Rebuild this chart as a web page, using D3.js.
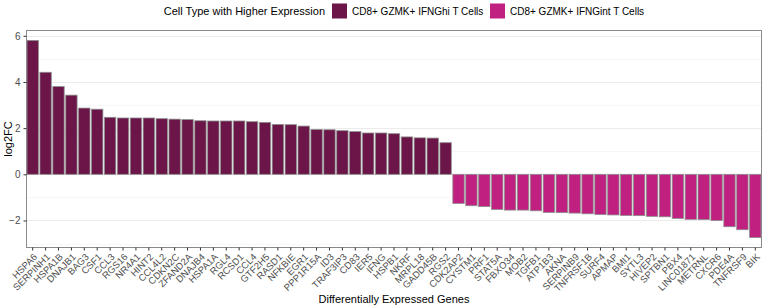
<!DOCTYPE html>
<html>
<head>
<meta charset="utf-8">
<script src="https://cdn.jsdelivr.net/npm/d3@7"></script>
<style>
  body { margin: 0; background: #fff; }
  text { font-family: "Liberation Sans", Arial, sans-serif; }
</style>
</head>
<body>
<script>
// Genes (ordered by log2FC)
const genes = ["HSPA6","SERPINH1","HSPA1B","DNAJB1","BAG3","CSF1","CCL3","RGS16","NR4A1","HINT2",
  "CCL4L2","CDKN2C","ZFAND2A","DNAJB4","HSPA1A","RGL4","RCSD1","CCL4","GTF2H5","RASD1",
  "NFKBIE","EGR1","PPP1R15A","ID3","TRAF3IP3","CD83","IER5","IFNG","HSPB1","NKRF",
  "MRPL18","GADD45B","RGS2","CDK2AP2","CYSTM1","PRF1","STAT5A","FBXO34","MOB2","TGFB1",
  "ATP1B3","AKNA","SERPINB9","TNFRSF1B","SURF4","APMAP","BMI1","SYTL3","HIVEP2","SPTBN1",
  "PBX4","LINC01871","METRNL","CXCR6","PDE4A","TNFRSF9","BIK"];
const log2fc = [5.80,4.42,3.80,3.43,2.87,2.82,2.47,2.44,2.44,2.44,
  2.41,2.39,2.37,2.32,2.31,2.31,2.31,2.28,2.25,2.16,
  2.15,2.09,1.94,1.93,1.89,1.85,1.79,1.79,1.76,1.62,
  1.58,1.57,1.37,-1.26,-1.36,-1.40,-1.52,-1.55,-1.55,-1.58,
  -1.65,-1.66,-1.68,-1.71,-1.74,-1.76,-1.78,-1.79,-1.82,-1.84,
  -1.91,-1.95,-1.96,-2.00,-2.27,-2.40,-2.74];
const groups = ["CD8+ GZMK+ IFNGhi T Cells", "CD8+ GZMK+ IFNGint T Cells"];
const groupColors = ["#6B1548", "#C02080"];
const yTicks = [-2, 0, 2, 4, 6];
const yMinor = [-3, -1, 1, 3, 5];

const data = genes.map((g, i) => ({
  gene: g, value: log2fc[i], group: log2fc[i] > 0 ? groups[0] : groups[1]
}));

const W = 763, H = 308;
const panel = {left: 26.5, right: 761.5, top: 30.5, bottom: 247.5};

const svg = d3.select("body").append("svg")
  .attr("width", W).attr("height", H);

const x = d3.scaleBand()
  .domain(genes)
  .range([panel.left, panel.right])
  .paddingInner(0.12)
  .paddingOuter(0.04);

const y = d3.scaleLinear()
  .domain([-3.17, 6.23])
  .range([panel.bottom, panel.top]);

const color = d3.scaleOrdinal().domain(groups).range(groupColors);

// grid lines
svg.append("g").selectAll("line.minor")
  .data(yMinor.filter(d => y(d) > panel.top && y(d) < panel.bottom))
  .enter().append("line")
  .attr("x1", panel.left).attr("x2", panel.right)
  .attr("y1", d => Math.round(y(d)) + 0.5).attr("y2", d => Math.round(y(d)) + 0.5)
  .attr("stroke", "#f2f2f2").attr("stroke-width", 0.6);
svg.append("g").selectAll("line.major")
  .data(yTicks)
  .enter().append("line")
  .attr("x1", panel.left).attr("x2", panel.right)
  .attr("y1", d => Math.round(y(d)) + 0.5).attr("y2", d => Math.round(y(d)) + 0.5)
  .attr("stroke", "#ebebeb").attr("stroke-width", 1.1);

// bars
svg.append("g").selectAll("rect")
  .data(data)
  .enter().append("rect")
  .attr("x", d => x(d.gene))
  .attr("width", x.bandwidth())
  .attr("y", d => y(Math.max(0, d.value)))
  .attr("height", d => Math.abs(y(d.value) - y(0)))
  .attr("fill", d => color(d.group))
  .attr("stroke", "#8c8c8c")
  .attr("stroke-width", 0.8);

// panel border
svg.append("rect")
  .attr("x", panel.left).attr("y", panel.top)
  .attr("width", panel.right - panel.left)
  .attr("height", panel.bottom - panel.top)
  .attr("fill", "none").attr("stroke", "#8a8a8a").attr("stroke-width", 1);

// y axis
const yAxis = svg.append("g")
  .attr("transform", `translate(${panel.left},0)`)
  .call(d3.axisLeft(y).tickValues(yTicks).tickSize(3).tickPadding(3).tickFormat(d3.format("d")));
yAxis.select(".domain").remove();
yAxis.selectAll("line").attr("stroke", "#333");
yAxis.selectAll("text").attr("fill", "#4d4d4d").style("font-size", "10px");

// x axis
const xAxis = svg.append("g")
  .attr("transform", `translate(0,${panel.bottom})`)
  .call(d3.axisBottom(x).tickSize(3).tickPadding(2));
xAxis.select(".domain").remove();
xAxis.selectAll("line").attr("stroke", "#333");
xAxis.selectAll("text")
  .attr("fill", "#4d4d4d")
  .style("font-size", "9.5px")
  .attr("text-anchor", "end")
  .attr("dy", null)
  .attr("y", 0)
  .attr("transform", "translate(0,5) rotate(-45)")
  .attr("dominant-baseline", "hanging");

// axis titles
svg.append("text")
  .attr("transform", `translate(12,${(panel.top + panel.bottom) / 2}) rotate(-90)`)
  .attr("text-anchor", "middle")
  .style("font-size", "11px")
  .attr("fill", "#000")
  .text("log2FC");

svg.append("text")
  .attr("x", (panel.left + panel.right) / 2)
  .attr("y", 303)
  .attr("text-anchor", "middle")
  .style("font-size", "11px")
  .attr("fill", "#000")
  .text("Differentially Expressed Genes");

// legend
const legend = svg.append("g").attr("transform", "translate(0,11)");
legend.append("text")
  .attr("x", 325).attr("y", 0)
  .attr("text-anchor", "end")
  .attr("dominant-baseline", "central")
  .style("font-size", "11px")
  .text("Cell Type with Higher Expression");
const keyX = [332, 490];
groups.forEach((g, i) => {
  legend.append("rect")
    .attr("x", keyX[i]).attr("y", -7.5)
    .attr("width", 15).attr("height", 15)
    .attr("fill", color(g));
  legend.append("text")
    .attr("x", keyX[i] + 20).attr("y", 0)
    .attr("dominant-baseline", "central")
    .style("font-size", "10px")
    .text(g);
});
</script>
</body>
</html>
